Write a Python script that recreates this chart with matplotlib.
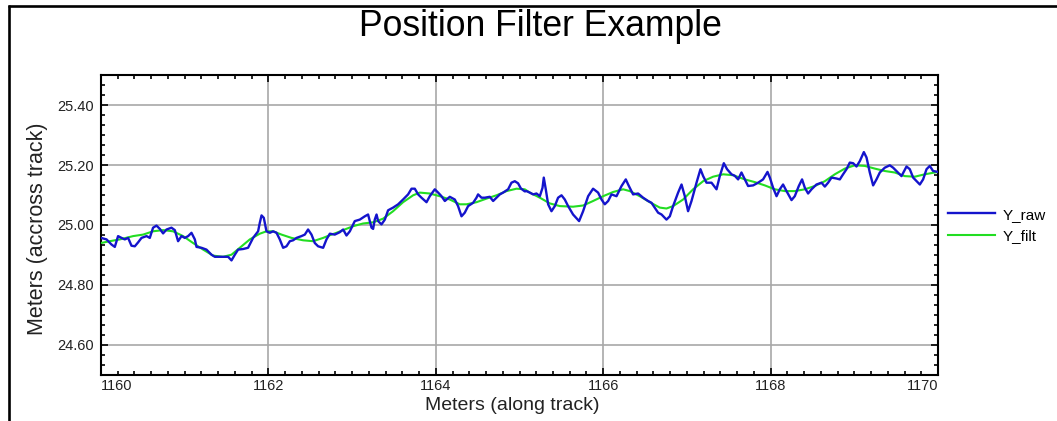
import matplotlib
matplotlib.use("Agg")
import matplotlib.pyplot as plt
from matplotlib.lines import Line2D
from matplotlib.ticker import AutoMinorLocator, FormatStrFormatter

plt.rcParams["font.family"] = ["Liberation Sans", "DejaVu Sans"]

# Raw along-track / across-track positions (m)
x_raw = [
    1160.000, 1160.066, 1160.125, 1160.165, 1160.204, 1160.245, 1160.284, 1160.324, 1160.364, 1160.404,
    1160.443, 1160.484, 1160.544, 1160.583, 1160.622, 1160.663, 1160.703, 1160.742, 1160.783, 1160.842,
    1160.882, 1160.921, 1160.962, 1161.001, 1161.041, 1161.081, 1161.121, 1161.141, 1161.201, 1161.260,
    1161.320, 1161.360, 1161.419, 1161.479, 1161.519, 1161.559, 1161.599, 1161.638, 1161.698, 1161.757,
    1161.817, 1161.877, 1161.897, 1161.918, 1161.945, 1161.977, 1162.017, 1162.056, 1162.097, 1162.136,
    1162.176, 1162.216, 1162.256, 1162.295, 1162.336, 1162.395, 1162.435, 1162.474, 1162.515, 1162.554,
    1162.594, 1162.654, 1162.694, 1162.734, 1162.793, 1162.853, 1162.893, 1162.933, 1162.973, 1163.032,
    1163.092, 1163.152, 1163.191, 1163.232, 1163.251, 1163.271, 1163.292, 1163.311, 1163.351, 1163.391,
    1163.430, 1163.490, 1163.550, 1163.609, 1163.669, 1163.710, 1163.749, 1163.789, 1163.829, 1163.889,
    1163.928, 1163.988, 1164.028, 1164.068, 1164.108, 1164.167, 1164.227, 1164.266, 1164.307, 1164.346,
    1164.386, 1164.446, 1164.486, 1164.505, 1164.546, 1164.585, 1164.645, 1164.685, 1164.725, 1164.765,
    1164.804, 1164.864, 1164.904, 1164.944, 1164.983, 1165.016, 1165.063, 1165.084, 1165.123, 1165.163,
    1165.203, 1165.243, 1165.275, 1165.290, 1165.314, 1165.342, 1165.382, 1165.422, 1165.461, 1165.502,
    1165.541, 1165.581, 1165.640, 1165.712, 1165.760, 1165.820, 1165.879, 1165.939, 1165.980, 1166.019,
    1166.059, 1166.099, 1166.159, 1166.219, 1166.270, 1166.298, 1166.357, 1166.417, 1166.477, 1166.536,
    1166.577, 1166.616, 1166.656, 1166.697, 1166.756, 1166.796, 1166.835, 1166.895, 1166.936, 1166.975,
    1167.014, 1167.055, 1167.115, 1167.162, 1167.194, 1167.234, 1167.294, 1167.354, 1167.393, 1167.441,
    1167.480, 1167.533, 1167.572, 1167.612, 1167.652, 1167.692, 1167.731, 1167.791, 1167.851, 1167.910,
    1167.963, 1167.991, 1168.030, 1168.071, 1168.110, 1168.149, 1168.190, 1168.250, 1168.289, 1168.337,
    1168.376, 1168.409, 1168.448, 1168.489, 1168.548, 1168.608, 1168.648, 1168.687, 1168.728, 1168.787,
    1168.827, 1168.866, 1168.907, 1168.946, 1168.986, 1169.026, 1169.066, 1169.114, 1169.146, 1169.185,
    1169.225, 1169.265, 1169.305, 1169.364, 1169.424, 1169.464, 1169.504, 1169.564, 1169.624, 1169.663,
    1169.703, 1169.783, 1169.822, 1169.863, 1169.902, 1169.941, 1170.000,
]
y_raw = [
    24.957, 24.952, 24.935, 24.927, 24.963, 24.957, 24.952, 24.957, 24.931, 24.929,
    24.942, 24.957, 24.963, 24.957, 24.991, 24.998, 24.987, 24.972, 24.985, 24.991,
    24.983, 24.946, 24.963, 24.957, 24.963, 24.974, 24.952, 24.927, 24.924, 24.918,
    24.901, 24.894, 24.894, 24.894, 24.894, 24.882, 24.901, 24.918, 24.920, 24.924,
    24.957, 24.979, 25.007, 25.032, 25.024, 24.979, 24.974, 24.979, 24.974, 24.952,
    24.924, 24.929, 24.946, 24.949, 24.957, 24.963, 24.968, 24.985, 24.968, 24.940,
    24.929, 24.924, 24.952, 24.971, 24.968, 24.976, 24.985, 24.965, 24.979, 25.013,
    25.018, 25.029, 25.035, 24.991, 24.987, 25.018, 25.035, 25.013, 25.002, 25.018,
    25.049, 25.058, 25.069, 25.085, 25.102, 25.121, 25.121, 25.102, 25.091, 25.076,
    25.096, 25.119, 25.108, 25.096, 25.080, 25.094, 25.085, 25.063, 25.029, 25.041,
    25.063, 25.074, 25.091, 25.102, 25.091, 25.091, 25.094, 25.080, 25.091, 25.102,
    25.108, 25.119, 25.141, 25.146, 25.139, 25.122, 25.112, 25.113, 25.108, 25.102,
    25.105, 25.096, 25.124, 25.158, 25.119, 25.069, 25.046, 25.063, 25.091, 25.099,
    25.085, 25.063, 25.035, 25.013, 25.046, 25.096, 25.121, 25.108, 25.085, 25.069,
    25.080, 25.102, 25.096, 25.130, 25.152, 25.135, 25.102, 25.105, 25.091, 25.080,
    25.074, 25.058, 25.041, 25.035, 25.018, 25.029, 25.063, 25.108, 25.135, 25.096,
    25.046, 25.080, 25.141, 25.186, 25.163, 25.141, 25.141, 25.119, 25.163, 25.206,
    25.186, 25.169, 25.164, 25.152, 25.175, 25.152, 25.130, 25.132, 25.141, 25.152,
    25.177, 25.158, 25.124, 25.096, 25.119, 25.135, 25.113, 25.083, 25.096, 25.130,
    25.152, 25.124, 25.105, 25.119, 25.135, 25.141, 25.128, 25.141, 25.158, 25.155,
    25.152, 25.169, 25.186, 25.208, 25.206, 25.195, 25.213, 25.243, 25.225, 25.175,
    25.132, 25.152, 25.175, 25.191, 25.199, 25.191, 25.180, 25.163, 25.195, 25.186,
    25.158, 25.135, 25.152, 25.186, 25.197, 25.180, 25.177,
]

# Filtered track
x_filt = [
    1160.000, 1160.105, 1160.225, 1160.384, 1160.503, 1160.622, 1160.742, 1160.861, 1160.981, 1161.100,
    1161.220, 1161.339, 1161.459, 1161.559, 1161.658, 1161.778, 1161.897, 1161.977, 1162.056, 1162.157,
    1162.276, 1162.415, 1162.534, 1162.654, 1162.734, 1162.814, 1162.893, 1163.012, 1163.131, 1163.251,
    1163.370, 1163.490, 1163.609, 1163.729, 1163.809, 1163.928, 1164.048, 1164.167, 1164.287, 1164.367,
    1164.486, 1164.606, 1164.725, 1164.845, 1164.964, 1165.063, 1165.123, 1165.243, 1165.362, 1165.482,
    1165.640, 1165.760, 1165.879, 1165.999, 1166.118, 1166.238, 1166.318, 1166.437, 1166.557, 1166.676,
    1166.756, 1166.835, 1166.955, 1167.074, 1167.194, 1167.313, 1167.433, 1167.552, 1167.692, 1167.811,
    1167.931, 1168.050, 1168.170, 1168.289, 1168.409, 1168.528, 1168.648, 1168.767, 1168.887, 1169.006,
    1169.125, 1169.245, 1169.364, 1169.484, 1169.603, 1169.723, 1169.842, 1170.000,
]
y_filt = [
    24.940, 24.946, 24.952, 24.963, 24.968, 24.979, 24.983, 24.979, 24.963, 24.940,
    24.918, 24.898, 24.894, 24.901, 24.924, 24.952, 24.971, 24.979, 24.979, 24.968,
    24.957, 24.949, 24.946, 24.957, 24.966, 24.974, 24.983, 24.996, 25.005, 25.009,
    25.021, 25.046, 25.076, 25.099, 25.108, 25.105, 25.096, 25.085, 25.069, 25.069,
    25.076, 25.088, 25.099, 25.113, 25.121, 25.119, 25.108, 25.091, 25.072, 25.063,
    25.061, 25.065, 25.080, 25.096, 25.110, 25.119, 25.113, 25.096, 25.076, 25.058,
    25.055, 25.063, 25.085, 25.119, 25.146, 25.161, 25.169, 25.166, 25.152, 25.143,
    25.132, 25.119, 25.113, 25.113, 25.119, 25.130, 25.146, 25.169, 25.188, 25.199,
    25.197, 25.188, 25.180, 25.175, 25.163, 25.161, 25.169, 25.177,
]

x_ticks = [1160, 1162, 1164, 1166, 1168, 1170]
y_ticks = [24.60, 24.80, 25.00, 25.20, 25.40]

W, H = 1057, 421
fig = plt.figure(figsize=(W / 100, H / 100), dpi=100)
ax = fig.add_axes([101 / W, 1 - 375 / H, 837 / W, 300 / H])

line_filt, = ax.plot(x_filt, y_filt, color="#22dd22", lw=1.5, zorder=3)
line_raw, = ax.plot(x_raw, y_raw, color="#1414cc", lw=1.7, zorder=4)

ax.set_xlim(1160, 1170)
ax.set_ylim(24.5, 25.5)
ax.set_xticks(x_ticks)
ax.set_yticks(y_ticks)
ax.xaxis.set_minor_locator(AutoMinorLocator(10))
ax.yaxis.set_minor_locator(AutoMinorLocator(6))
ax.yaxis.set_major_formatter(FormatStrFormatter("%.2f"))
ax.grid(True, which="major", color="#a8a8a8", lw=1.2)
ax.set_axisbelow(True)

ax.tick_params(which="both", direction="in", top=True, right=True,
               colors="black", labelsize=10.5, width=1.2)
ax.tick_params(which="major", length=5)
ax.tick_params(which="minor", length=3)
ax.tick_params(axis="x", pad=3, labelcolor="#222222")
ax.tick_params(axis="y", pad=5, labelcolor="#222222")
for s in ax.spines.values():
    s.set_linewidth(1.5)
    s.set_color("black")

fig.canvas.draw()
xlabels = ax.get_xticklabels()
xlabels[0].set_horizontalalignment("left")
xlabels[-1].set_horizontalalignment("right")

ax.set_xlabel("Meters (along track)", fontsize=14, color="#222222")
ax.xaxis.set_label_coords((512 - 101) / 837, -(405 - 375) / 300)
ax.xaxis.label.set_verticalalignment("center")
ax.set_ylabel("Meters (accross track)", fontsize=15.5, color="#222222")
ax.yaxis.set_label_coords(-(101 - 38) / 837, (375 - 229) / 300)
ax.yaxis.label.set_verticalalignment("center")

fig.text(540 / W, 1 - 35.5 / H, "Position Filter Example", fontsize=25.6,
         ha="center", va="baseline", color="black")

fig.legend([line_raw, line_filt], ["Y_raw", "Y_filt"],
           loc="center left", bbox_to_anchor=(948 / W, 1 - 225.5 / H),
           frameon=False, fontsize=11, handlelength=3.1, handletextpad=0.5,
           labelspacing=0.5, borderaxespad=0, borderpad=0)

# Outer frame of the chart panel
fig.add_artist(Line2D([8.5 / W, 8.5 / W], [0, 1 - 5 / H], transform=fig.transFigure,
                      color="black", lw=1.9, solid_capstyle="butt"))
fig.add_artist(Line2D([8 / W, 1], [1 - 6 / H, 1 - 6 / H], transform=fig.transFigure,
                      color="black", lw=1.9, solid_capstyle="butt"))

fig.savefig("out.png", dpi=100)
